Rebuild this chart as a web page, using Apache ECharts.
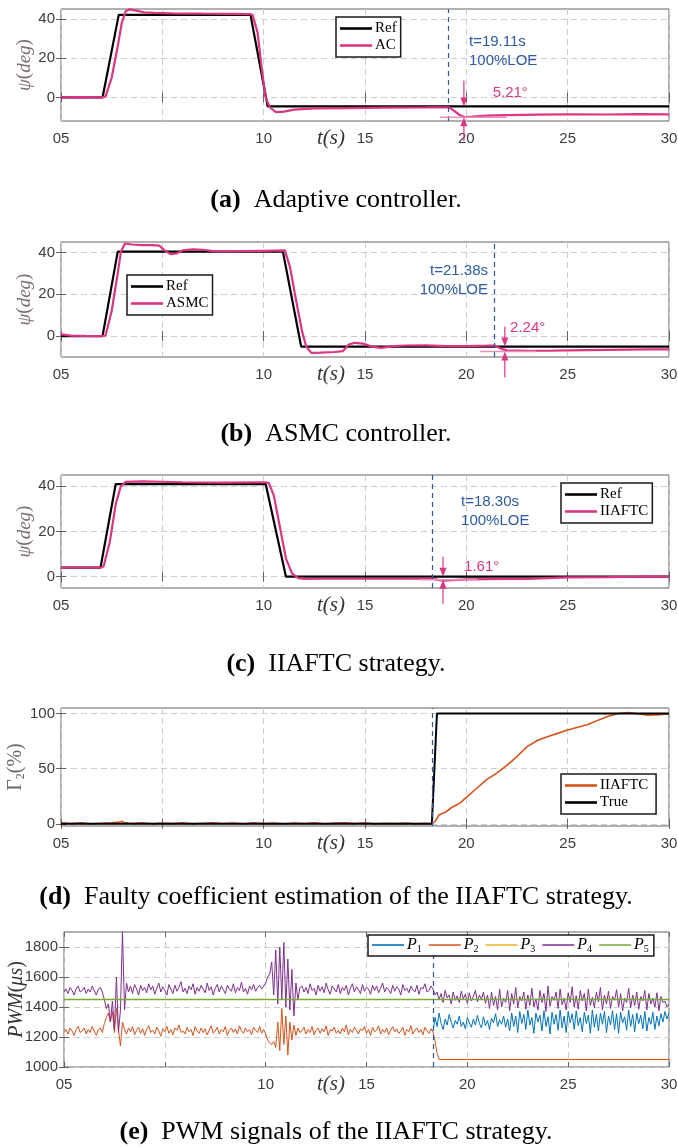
<!DOCTYPE html>
<html><head><meta charset="utf-8">
<script src="https://cdn.jsdelivr.net/npm/echarts@6/dist/echarts.min.js"></script>
<style>html,body{margin:0;padding:0;background:#fff}#c{width:678px;height:1148px}</style>
</head><body><div id="c"></div>
<script>
// ================= DATA =================
const xTicks = [0, 5, 10, 15, 20, 25, 30];
const xTickLabels = ['05', '', '10', '15', '20', '25', '30'];
const yTicksPsi = [0, 20, 40];
const yTicksGamma = [0, 50, 100];
const yTicksPwm = [1000, 1200, 1400, 1600, 1800];

// (a) Adaptive controller
const refT1 = [0, 2.05, 2.85, 9.35, 10.2, 30];
const refV1 = [0, 0, 42, 42, -4.6, -4.6];
const acT1 = [0, 1.0, 2.0, 2.2, 2.5, 2.8, 3.0, 3.2, 3.4, 3.7, 4.1, 4.6, 5.5, 7.0, 8.5, 9.3, 9.45, 9.7, 9.9, 10.1, 10.3, 10.6, 11.0, 11.5, 12.5, 14, 16, 18, 19.15, 19.4, 19.65, 19.9, 20.3, 21, 22, 23.5, 25, 27, 28.5, 30];
const acV1 = [0, 0.2, 0, 0.5, 10, 26, 38, 44, 44.8, 44.2, 43.3, 43, 42.8, 42.6, 42.5, 42.4, 42, 33, 15, 0, -5, -7.5, -7.2, -6.2, -5.6, -5.4, -5.2, -5.1, -5, -6.8, -8.8, -10, -9.8, -9.3, -9, -8.8, -8.6, -8.7, -8.5, -8.6];

// (b) ASMC controller
const refT2 = [0, 2.05, 2.8, 10.95, 11.85, 30];
const refV2 = [0, 0, 40.4, 40.4, -5, -5];
const asT2 = [0, 0.5, 1.2, 2.0, 2.2, 2.5, 2.8, 2.95, 3.15, 3.5, 4.0, 4.5, 4.85, 5.1, 5.4, 5.7, 6.0, 6.5, 7.0, 7.5, 8.0, 9.0, 10.0, 11.05, 11.3, 11.6, 11.9, 12.1, 12.35, 12.8, 13.5, 13.9, 14.2, 14.5, 14.9, 15.4, 15.8, 16.4, 17, 18, 19, 20, 21, 21.4, 21.7, 22, 23, 24, 25, 27, 29, 30];
const asV2 = [0.8, 0.2, 0.1, 0, 0.3, 12, 30, 40, 44.3, 43.8, 43.5, 43.5, 43.3, 41, 39.2, 39.5, 41, 41.5, 41.3, 40.6, 40.5, 40.6, 40.8, 41, 33, 17, 2, -5, -8, -7.9, -7.6, -7.2, -4, -3.2, -3.6, -5.2, -5.6, -4.8, -4.5, -4.4, -4.8, -4.8, -4.6, -4.5, -6, -6.8, -7, -7, -6.8, -6.6, -6.4, -6.4];

// (c) IIAFTC strategy
const refT3 = [0, 1.95, 2.7, 10.1, 11.1, 30];
const refV3 = [4, 4, 41, 41, 0, 0];
const iiT3 = [0, 1.0, 1.95, 2.1, 2.4, 2.7, 2.95, 3.2, 4, 6, 8, 10, 10.25, 10.5, 10.8, 11.1, 11.4, 11.7, 12, 13, 15, 17, 18.3, 18.6, 18.9, 19.3, 20, 22, 23, 24, 25, 27, 28.5, 29, 30];
const iiV3 = [4, 4, 4, 4.5, 15, 32, 40, 42, 42.2, 41.8, 41.6, 41.8, 41.5, 36, 22, 8, 1.5, -0.6, -1, -0.9, -0.9, -0.9, -0.8, -1.4, -1.7, -1.5, -1.2, -1, -1, -0.6, -0.3, -0.2, 0, 0.1, 0];

// (d) Faulty coefficient estimation
const trueT = [0, 18.3, 18.55, 30];
const trueV = [0, 0, 100, 100];
const estT = [0, 0.5, 1, 1.5, 2, 2.5, 2.9, 3.0, 3.1, 3.5, 4, 4.5, 5, 5.5, 6, 6.5, 7, 7.5, 8, 8.5, 9, 9.5, 10, 10.5, 11, 11.5, 12, 12.5, 13, 13.5, 14, 14.5, 15, 15.5, 16, 16.5, 17, 17.5, 18, 18.3, 18.45, 18.65, 19, 19.3, 19.7, 20, 20.5, 21, 21.5, 22, 22.5, 23, 23.5, 24, 24.5, 25, 25.5, 26, 26.5, 27, 27.5, 28, 28.5, 29, 29.5, 30];
const estV = [0.8, 0.2, 0.9, 0, 0.5, 0.8, 1.5, 2.3, 1.2, 0.3, 0.9, 0, 0.6, 0.2, 0.8, 0, 0.5, 0.9, 0.2, 0.7, 0, 0.8, 0.3, 0.6, 0, 0.7, 0.2, 0.9, 0.1, 0.6, 0.8, 0.2, 0.9, 0, 0.5, 0.2, 0.6, 0, 0.4, 0, 2, 8, 11, 15, 19, 24, 32, 40, 46, 53, 61, 70, 75.5, 79, 82, 85, 87.5, 90, 94, 97.5, 100, 100.8, 99.5, 98.5, 99, 99.5];

// (e) PWM signals, sampled every 0.1 s
const pwmStep = 0.1;
const p2Vals = [
  1230,1250,1220,1260,1240,1210,1250,1270,1230,1240,1260,1220,1250,1230,1270,1240,1210,1250,1260,1230,
  1290,1330,1360,1300,1370,1230,1390,1250,1140,1300,
  1250,1220,1260,1235,1270,1215,1245,1265,1225,1255,
  1210,1250,1275,1230,1245,1220,1265,1240,1205,1255,
  1235,1270,1225,1250,1215,1260,1245,1280,1230,1240,
  1220,1265,1235,1250,1210,1270,1240,1225,1260,1230,
  1255,1215,1245,1275,1225,1240,1265,1220,1250,1235,
  1270,1210,1245,1260,1230,1255,1220,1275,1240,1225,
  1260,1235,1250,1215,1265,1245,1230,1270,1225,1250,
  1220,1180,1160,1150,1170,1130,1300,1110,1390,1150,1340,1080,1300,1180,1280,1210,1260,1230,
  1240,1265,1220,1250,1230,1270,1215,1245,1260,1225,
  1255,1235,1275,1210,1250,1240,1265,1225,1245,1220,
  1260,1235,1280,1215,1250,1230,1265,1245,1220,1255,
  1240,1270,1225,1250,1210,1265,1235,1245,1275,1220,
  1250,1230,1260,1215,1245,1270,1235,1255,1225,1240,
  1265,1210,1250,1235,1275,1220,1245,1260,1230,1250,
  1215,1265,1240,1225,1255,
  1230,1170,1090,1050
];
const p2EndT = 30, p2EndV = 1050;
const p4Vals = [
  1500,1520,1490,1530,1510,1480,1520,1540,1500,1510,1530,1490,1520,1500,1540,1510,1480,1520,1530,1500,
  1450,1390,1420,1300,1440,1250,1600,1230,1380,1900,1380,
  1560,1500,1540,1490,1550,1520,1480,1545,1510,1530,
  1495,1555,1515,1540,1485,1525,1560,1500,1535,1510,
  1480,1550,1520,1490,1545,1505,1530,1570,1500,1525,
  1490,1540,1515,1555,1485,1530,1505,1545,1520,1495,
  1560,1510,1535,1480,1525,1550,1500,1540,1515,1490,
  1545,1520,1505,1555,1495,1530,1510,1565,1500,1525,
  1485,1540,1515,1550,1505,1530,1545,1520,1540,
  1560,1600,1620,1700,1480,1780,1420,1800,1450,1830,1400,1720,1380,1650,1340,1560,1450,1530,
  1540,1500,1530,1490,1555,1510,1525,1480,1545,1505,
  1535,1495,1560,1515,1485,1540,1520,1500,1550,1490,
  1530,1510,1545,1480,1525,1555,1500,1535,1515,1490,
  1550,1505,1530,1520,1485,1545,1510,1540,1495,1525,
  1560,1500,1530,1515,1490,1545,1505,1535,1520,1480,
  1550,1510,1525,1495,1540,1515,1500,1545,1485,1530,
  1520,1555,1500,1510,1540,
  1520,1480,1500,1450,1490,1430,1510,1460,1480,1420,
  1500,1445,1475,1430,1505,1455,1485,1425,1495,1440,
  1470,1510,1435,1480,1450,1500,1425,
  1480,1390,1500,1410,1470,1380,1520,1400,1460,1430,
  1510,1375,1490,1420,1530,1395,1470,1440,1500,1385,
  1480,1410,1525,1400,1455,1380,1510,1430,1490,1370,
  1540,1405,1470,1445,1500,1390,1520,1415,1460,1380,
  1495,1430,1535,1400,1475,1385,1510,1440,1490,1375,
  1520,1410,1465,1395,1500,1435,1530,1380,1480,1420,
  1505,1390,1470,1445,1515,1400,1490,1375,1460,1430,
  1525,1395,1480,1410,1500,1385,1470,1440,1510,1380,
  1490,1420,1460,1400,1495,1375,1470,1430,1440,1400,1420
];
const p1StartT = 18.3;
const p1Vals = [
  1240,1330,1270,1360,1290,1250,1320,1280,1350,1300,
  1260,1310,1285,1340,1270,1300,1255,1330,1295,1265,
  1320,1280,1345,1290,1260,1335,1275,1310,1250,1325,
  1295,1355,1270,1315,1285,1340,1265,
  1320,1240,1360,1270,1340,1230,1370,1290,1350,1250,
  1380,1280,1330,1225,1360,1300,1345,1240,1375,1270,
  1335,1220,1365,1285,1350,1245,1380,1260,1340,1230,
  1370,1295,1355,1250,1375,1275,1330,1235,1365,1290,
  1345,1225,1380,1265,1350,1240,1360,1285,1370,1230,
  1340,1280,1375,1250,1355,1225,1365,1295,1335,1245,
  1380,1270,1350,1235,1360,1290,1345,1255,1370,1240,
  1330,1285,1365,1250,1340,1275,1355,1300,1370,1320,1360
];
const p3T = [0, 30], p3V = [1450, 1450];
const p5T = [0, 30], p5V = [1450, 1450];

const faultT = [19.11, 21.38, 18.30, 18.30, 18.30];
const faultLabels = [['t=19.11s', '100%LOE'], ['t=21.38s', '100%LOE'], ['t=18.30s', '100%LOE']];
// measurement: arrow time, reference level, lowest level, offset line span, label
const measT = [19.88, 21.9, 18.85];
const measRef = [-4.6, -5, 0];
const measLow = [-10.1, -7.4, -1.4];
const measSpan = [[18.7, 22.0], [20.68, 23.44], [17.64, 20.56]];
const measLabels = ['5.21°', '2.24°', '1.61°'];

const captions = [
  ['(a)', 'Adaptive controller.'],
  ['(b)', 'ASMC controller.'],
  ['(c)', 'IIAFTC strategy.'],
  ['(d)', 'Faulty coefficient estimation of the IIAFTC strategy.'],
  ['(e)', 'PWM signals of the IIAFTC strategy.']
];

// ================= LAYOUT / STYLE =================
const COL = {
  pink: '#dc3584', pinkLight: '#eb8fba', black: '#000', blue: '#2d5aa6',
  orange: '#d95319', p1: '#0072bd', p3: '#edb120', p4: '#7e2f8e', p5: '#77ac30',
  grid: '#cdcdcd', axis: '#626262', tick: '#3c3c3c'
};
const grids = [
  { left: 61, top: 9, width: 608, height: 112 },
  { left: 61, top: 242, width: 608, height: 115 },
  { left: 61, top: 475, width: 608, height: 113 },
  { left: 61, top: 708, width: 608, height: 118 },
  { left: 64, top: 932, width: 605, height: 135 }
];
const yRanges = [[-12, 45], [-10, 45], [-5, 45], [-2, 105], [1000, 1900]];
const yTickSets = [yTicksPsi, yTicksPsi, yTicksPsi, yTicksGamma, yTicksPwm];
const serif = 'Liberation Serif';
const sans = 'Liberation Sans';
const nameRichPsi = { i: { fontFamily: serif, fontStyle: 'italic', fontSize: 19, color: '#7a6e76' }, u: { fontFamily: serif, fontSize: 19, color: '#7a6e76' } };
const yNames = [
  '{i|ψ}{u|(}{i|deg}{u|)}', '{i|ψ}{u|(}{i|deg}{u|)}', '{i|ψ}{u|(}{i|deg}{u|)}',
  '{u|Γ}{s|2}{u|(%)}', '{i|PWM}{u|(}{i|μs}{u|)}'
];
const yNameGaps = [27, 27, 27, 34, 37];
const yNameRich = [
  nameRichPsi, nameRichPsi, nameRichPsi,
  { u: { fontFamily: serif, fontSize: 20, color: '#6a6a6a' }, s: { fontFamily: serif, fontSize: 12, color: '#6a6a6a', padding: [10, 0, 0, 0] } },
  { i: { fontFamily: serif, fontStyle: 'italic', fontSize: 20, color: '#333' }, u: { fontFamily: serif, fontSize: 20, color: '#333' } }
];

const pairs = (t, v) => t.map((x, i) => [x, v[i]]);
const gridPairs = (start, vals) => vals.map((v, i) => [Math.round((start + i * pwmStep) * 10) / 10, v]);

const xAxes = [], yAxes = [];
for (let k = 0; k < 2; k++) {
  grids.forEach((g, i) => {
    const main = k === 0;
    xAxes.push({
      type: 'value', gridIndex: i, min: 0, max: 30, interval: 5,
      position: main ? 'bottom' : 'top',
      axisLine: { show: false },
      axisTick: { show: true, inside: true, length: 5, lineStyle: { color: COL.axis } },
      axisLabel: {
        show: main, margin: 10, color: COL.tick, fontFamily: sans, fontSize: 15,
        formatter: v => { const j = xTicks.indexOf(v); return j >= 0 ? xTickLabels[j] : ''; }
      },
      splitLine: { show: main, lineStyle: { type: [6, 4], color: COL.grid, width: 1 } }
    });
    yAxes.push({
      type: 'value', gridIndex: i, min: yRanges[i][0], max: yRanges[i][1],
      position: main ? 'left' : 'right',
      axisLine: { show: false },
      axisTick: { show: true, inside: true, length: 5, lineStyle: { color: COL.axis }, customValues: yTickSets[i] },
      axisLabel: { show: main, margin: 6, color: COL.tick, fontFamily: sans, fontSize: 15, customValues: yTickSets[i], formatter: v => String(v) },
      splitLine: { show: main, lineStyle: { type: [6, 4], color: COL.grid, width: 1 } },
      name: main ? yNames[i] : '', nameLocation: 'middle', nameGap: yNameGaps[i], nameMoveOverlap: false,
      nameTextStyle: { rich: yNameRich[i] }
    });
  });
}

function line(name, gi, data, color, width, z) {
  return {
    type: 'line', name, xAxisIndex: gi, yAxisIndex: gi, data, symbol: 'none', showSymbol: false,
    lineStyle: { color, width }, itemStyle: { color }, z: z || 2, animation: false, silent: true
  };
}
function faultLine(gi) {
  return {
    silent: true, symbol: ['none', 'none'], label: { show: false },
    lineStyle: { type: [5, 4], color: COL.blue, width: 1.2 },
    data: [{ xAxis: faultT[gi] }]
  };
}

const series = [];
let s;
s = line('Ref', 0, pairs(refT1, refV1), COL.black, 2.2); s.markLine = faultLine(0); series.push(s);
series.push(line('AC', 0, pairs(acT1, acV1), COL.pink, 2.2, 3));
s = line('Ref', 1, pairs(refT2, refV2), COL.black, 2.2); s.markLine = faultLine(1); series.push(s);
series.push(line('ASMC', 1, pairs(asT2, asV2), COL.pink, 2.2, 3));
s = line('Ref', 2, pairs(refT3, refV3), COL.black, 2.2); s.markLine = faultLine(2); series.push(s);
series.push(line('IIAFTC', 2, pairs(iiT3, iiV3), COL.pink, 2.2, 3));
s = line('IIAFTC ', 3, pairs(estT, estV), COL.orange, 1.6); s.markLine = faultLine(3); series.push(s);
series.push(line('True', 3, pairs(trueT, trueV), COL.black, 2, 3));
series.push(line('P1', 4, gridPairs(p1StartT, p1Vals), COL.p1, 1));
s = line('P2', 4, gridPairs(0, p2Vals).concat([[p2EndT, p2EndV]]), COL.orange, 1); s.markLine = faultLine(4); series.push(s);
series.push(line('P3', 4, pairs(p3T, p3V), COL.p3, 0.8));
series.push(line('P4', 4, gridPairs(0, p4Vals), COL.p4, 1));
series.push(line('P5', 4, pairs(p5T, p5V), COL.p5, 1.6, 3));

const legBase = {
  orient: 'vertical', icon: 'rect', itemWidth: 32, itemHeight: 2.6, itemGap: 2, padding: [4, 4, 4, 4],
  backgroundColor: '#fff', borderColor: '#1a1a1a', borderWidth: 1.5, selectedMode: false,
  textStyle: { fontFamily: serif, fontSize: 15, color: '#000', padding: [0, 0, 0, -2] }, z: 20
};
const legend = [
  Object.assign({}, legBase, { data: ['Ref', 'AC'], left: 336, top: 17 }),
  Object.assign({}, legBase, { data: ['Ref', 'ASMC'], left: 127, top: 275 }),
  Object.assign({}, legBase, { data: ['Ref', 'IIAFTC'], left: 561, top: 483 }),
  Object.assign({}, legBase, { data: ['IIAFTC ', 'True'], left: 561, top: 774 }),
  Object.assign({}, legBase, {
    data: ['P1', 'P2', 'P3', 'P4', 'P5'], left: 368, top: 935, orient: 'horizontal',
    itemHeight: 1.6, itemGap: 7, padding: [2, 5, 2, 4],
    formatter: n => '{p|P}{s|' + n.slice(1) + '}',
    textStyle: {
      padding: [0, 0, 0, -2],
      rich: {
        p: { fontFamily: serif, fontStyle: 'italic', fontSize: 16, color: '#000' },
        s: { fontFamily: serif, fontSize: 10, color: '#000', padding: [8, 0, 0, 0] }
      }
    }
  })
];

const chart = echarts.init(document.getElementById('c'), null, { renderer: 'canvas' });
chart.setOption({
  animation: false,
  backgroundColor: '#fff',
  grid: grids.map(g => Object.assign({ show: true, borderColor: COL.axis, borderWidth: 1, backgroundColor: 'transparent', containLabel: false, outerBoundsMode: 'none' }, g)),
  xAxis: xAxes, yAxis: yAxes, legend, series
});

// ================= ANNOTATIONS =================
const px = (gi, t, v) => chart.convertToPixel({ xAxisIndex: gi, yAxisIndex: gi }, [t, v]);
const els = [];
const captionX = 336;
const captionY = [200, 434, 664, 897, 1132];
captions.forEach((c, i) => {
  els.push({
    type: 'text', x: captionX, y: captionY[i], z: 100,
    style: {
      text: '{b|' + c[0] + '}{r|  ' + c[1] + '}', align: 'center', verticalAlign: 'middle',
      font: '26px "Liberation Serif"',
      rich: {
        b: { fontFamily: serif, fontWeight: 'bold', fontSize: 26, fill: '#000' },
        r: { fontFamily: serif, fontSize: 26, fill: '#000' }
      }
    }
  });
});
grids.forEach((g, i) => {
  els.push({
    type: 'text', x: 331, y: g.top + g.height + 17, z: 100,
    style: { text: 't(s)', align: 'center', verticalAlign: 'middle', font: 'italic 21px "Liberation Serif"', fill: '#333' }
  });
});
// fault text blocks (time, value of block centre, alignment)
const faultTextPos = [[20.13, 23.6, 'left'], [21.07, 26.5, 'right'], [19.74, 28.7, 'left']];
faultTextPos.forEach((p, i) => {
  const [x, y] = px(i, p[0], p[1]);
  els.push({
    type: 'text', x, y, z: 100,
    style: { text: faultLabels[i].join('\n'), align: p[2], verticalAlign: 'middle', lineHeight: 19, font: '15px "Liberation Sans"', fill: COL.blue }
  });
});
const measTextPos = [[21.3, 2.5], [22.16, 3.7], [19.89, 4.2]];
const downLen = [26, 20, 20], upLen = [24, 26, 24];
measT.forEach((t, i) => {
  const [x, yRef] = px(i, t, measRef[i]);
  const [, yLow] = px(i, t, measLow[i]);
  const [xL] = px(i, measSpan[i][0], measLow[i]);
  const [xR] = px(i, measSpan[i][1], measLow[i]);
  els.push({ type: 'line', z: 90, shape: { x1: xL, y1: yLow, x2: xR, y2: yLow }, style: { stroke: COL.pinkLight, lineWidth: 1.5 } });
  els.push({ type: 'line', z: 91, shape: { x1: x, y1: yRef - downLen[i], x2: x, y2: yRef - 6 }, style: { stroke: COL.pink, lineWidth: 1.2 } });
  els.push({ type: 'polygon', z: 91, shape: { points: [[x - 3.5, yRef - 9], [x + 3.5, yRef - 9], [x, yRef]] }, style: { fill: COL.pink } });
  els.push({ type: 'line', z: 91, shape: { x1: x, y1: yLow + upLen[i], x2: x, y2: yLow + 6 }, style: { stroke: COL.pink, lineWidth: 1.2 } });
  els.push({ type: 'polygon', z: 91, shape: { points: [[x - 3.5, yLow + 9], [x + 3.5, yLow + 9], [x, yLow]] }, style: { fill: COL.pink } });
  const [tx, ty] = px(i, measTextPos[i][0], measTextPos[i][1]);
  els.push({ type: 'text', x: tx, y: ty, z: 100, style: { text: measLabels[i], align: 'left', verticalAlign: 'middle', font: '15px "Liberation Sans"', fill: COL.pink } });
});
chart.setOption({ graphic: els });
</script>
</body></html>
